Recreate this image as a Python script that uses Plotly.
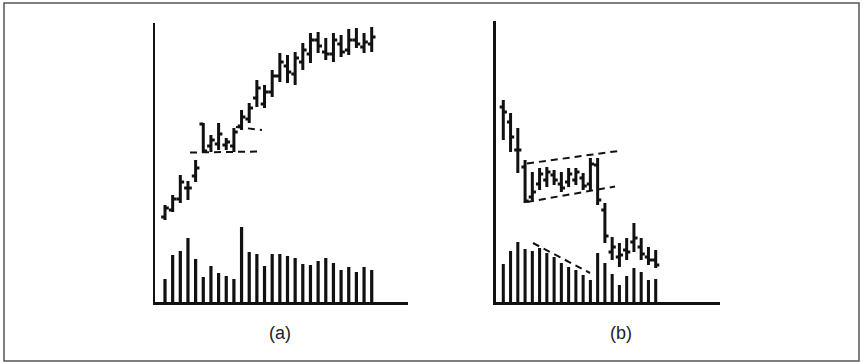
import plotly.graph_objects as go

# ---------------- Panel (a): flag in an uptrend ----------------
a_day = list(range(1, 29))
a_open  = [85, 92, 103, 114, 126, 178, 156, 158, 157, 156, 176, 183, 204, 198, 210, 226, 236, 228, 240, 248, 262, 250, 248, 258, 252, 262, 255, 258]
a_high  = [97, 107, 127, 121, 142, 179, 167, 179, 164, 174, 192, 199, 222, 217, 232, 249, 247, 250, 259, 269, 270, 264, 269, 267, 273, 274, 269, 275]
a_low   = [82, 90, 99, 102, 120, 149, 150, 152, 152, 150, 172, 179, 195, 194, 205, 220, 219, 217, 232, 239, 249, 242, 240, 245, 247, 254, 249, 250]
a_close = [94, 103, 120, 114, 134, 151, 162, 168, 160, 170, 185, 194, 214, 210, 226, 240, 230, 244, 252, 262, 256, 248, 262, 250, 262, 258, 260, 265]
a_volume = [23, 47, 51, 64, 43, 25, 36, 29, 26, 23, 75, 50, 48, 36, 48, 48, 46, 44, 38, 37, 41, 44, 39, 32, 35, 30, 35, 32]

# flag boundary lines (a)
a_upper_x = [10.27, 13.67]
a_upper_y = [175, 172]
a_lower_x = [4.27, 13.67]
a_lower_y = [149.5, 150.5]

# ---------------- Panel (b): flag in a downtrend ----------------
b_day = list(range(1, 23))
b_open  = [195, 180, 152, 135, 105, 118, 122, 127, 118, 120, 122, 124, 118, 137, 92, 50, 45, 52, 60, 55, 45, 42]
b_high  = [202, 189, 174, 142, 130, 134, 135, 132, 130, 134, 134, 129, 144, 144, 99, 65, 59, 64, 79, 64, 55, 52]
b_low   = [162, 150, 129, 99, 102, 112, 115, 117, 110, 115, 117, 112, 112, 97, 59, 42, 35, 42, 50, 42, 37, 34]
b_close = [190, 165, 152, 101, 110, 128, 130, 122, 114, 128, 130, 116, 138, 102, 66, 55, 47, 50, 64, 48, 42, 37]
b_volume = [38, 51, 60, 53, 51, 54, 49, 45, 39, 35, 32, 27, 22, 49, 39, 28, 17, 26, 34, 30, 22, 23]

# flag boundary lines and volume trend (b)
b_upper_x = [4.27, 17.36]
b_upper_y = [138.5, 151.5]
b_lower_x = [4.27, 16.39]
b_lower_y = [100, 115.5]
b_voltrend_x = [5.09, 12.95]
b_voltrend_y = [59, 29]

panel_labels = ["(a)", "(b)"]

INK = "#111111"
fig = go.Figure()

def add_panel(day, o, h, l, c, vol, xa, ya):
    fig.add_trace(go.Bar(x=day, y=vol, width=0.42, marker=dict(color=INK, line=dict(width=0)),
                         xaxis=xa, yaxis=ya, hoverinfo="skip"))
    fig.add_trace(go.Ohlc(x=day, open=o, high=h, low=l, close=c, tickwidth=0.5,
                          increasing=dict(line=dict(color=INK, width=3)),
                          decreasing=dict(line=dict(color=INK, width=3)),
                          xaxis=xa, yaxis=ya, hoverinfo="skip"))

def add_dash(xs, ys, xa, ya):
    fig.add_trace(go.Scatter(x=xs, y=ys, mode="lines",
                             line=dict(color=INK, width=2, dash="7px,5px"),
                             xaxis=xa, yaxis=ya, hoverinfo="skip"))

add_panel(a_day, a_open, a_high, a_low, a_close, a_volume, "x", "y")
add_dash(a_upper_x, a_upper_y, "x", "y")
add_dash(a_lower_x, a_lower_y, "x", "y")

add_panel(b_day, b_open, b_high, b_low, b_close, b_volume, "x2", "y2")
add_dash(b_upper_x, b_upper_y, "x2", "y2")
add_dash(b_lower_x, b_lower_y, "x2", "y2")
add_dash(b_voltrend_x, b_voltrend_y, "x2", "y2")

W, H = 863, 363
axis_common = dict(showline=True, linecolor=INK, linewidth=2.5, showticklabels=False,
                   showgrid=False, zeroline=False, ticks="", fixedrange=True)

fig.update_layout(
    width=W, height=H,
    margin=dict(l=0, r=0, t=0, b=0),
    paper_bgcolor="white", plot_bgcolor="white",
    showlegend=False,
    xaxis=dict(domain=[155 / W, 408 / W], range=[-0.306, 32.74], anchor="y",
               rangeslider=dict(visible=False), **axis_common),
    yaxis=dict(domain=[(H - 302) / H, (H - 23) / H], range=[0, 279], anchor="x", **axis_common),
    xaxis2=dict(domain=[495.5 / W, 720 / W], range=[-0.075, 30.86], anchor="y2",
                rangeslider=dict(visible=False), **axis_common),
    yaxis2=dict(domain=[(H - 302) / H, (H - 21) / H], range=[0, 281], anchor="x2", **axis_common),
    annotations=[
        dict(text=panel_labels[0], x=280 / W, y=(H - 333) / H, xref="paper", yref="paper",
             xanchor="center", yanchor="middle", showarrow=False,
             font=dict(family="Liberation Sans, Arial, sans-serif", size=18, color="#222")),
        dict(text=panel_labels[1], x=620.5 / W, y=(H - 333) / H, xref="paper", yref="paper",
             xanchor="center", yanchor="middle", showarrow=False,
             font=dict(family="Liberation Sans, Arial, sans-serif", size=18, color="#222")),
    ],
    shapes=[
        dict(type="rect", xref="paper", yref="paper", x0=4 / W, x1=859 / W,
             y0=(H - 361) / H, y1=(H - 3) / H, line=dict(color="#555555", width=1.5)),
    ],
)

fig.write_html("out.html", config={"displayModeBar": False, "staticPlot": True},
               post_script="document.body.style.margin='0';document.body.style.overflow='hidden';")
